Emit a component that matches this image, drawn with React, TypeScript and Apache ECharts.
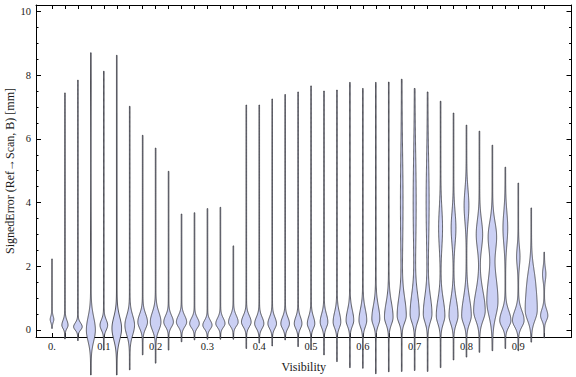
import React, { useEffect, useRef } from "react";
import * as echarts from "echarts";

// Violin positions (Visibility)
const VISIBILITY = [0, 0.025, 0.05, 0.075, 0.1, 0.125, 0.15, 0.175, 0.2, 0.225, 0.25, 0.275, 0.3, 0.325, 0.35, 0.375, 0.4, 0.425, 0.45, 0.475, 0.5, 0.525, 0.55, 0.575, 0.6, 0.625, 0.65, 0.675, 0.7, 0.725, 0.75, 0.775, 0.8, 0.825, 0.85, 0.875, 0.9, 0.925, 0.95];
// Range of SignedError per violin [mm]
const ERROR_MIN = [0.05, -0.28, -0.33, -1.41, -0.63, -1.41, -1.25, -0.78, -1.04, -0.63, -0.37, -0.31, -0.29, -0.29, -0.29, -0.58, -0.41, -0.5, -0.31, -0.52, -0.6, -0.78, -0.99, -1.18, -1.2, -1.37, -1.31, -1.3, -1.27, -1.3, -1.18, -0.94, -0.85, -0.7, -0.65, -0.58, -0.65, -0.38, -0.25];
const ERROR_MAX = [2.23, 7.44, 7.84, 8.7, 8.12, 8.62, 7.02, 6.11, 5.71, 4.98, 3.64, 3.68, 3.81, 3.85, 2.64, 7.06, 7.06, 7.25, 7.39, 7.47, 7.66, 7.5, 7.53, 7.77, 7.58, 7.77, 7.78, 7.87, 7.58, 7.47, 7.18, 6.81, 6.43, 6.24, 5.8, 5.11, 4.61, 3.83, 2.44];
// Main density peak: location, spread below / above, peak half-width (1e-3 visibility units)
const MODE = [0.33, 0.15, 0.1, 0.0, 0.15, 0.05, 0.15, 0.25, 0.25, 0.25, 0.25, 0.2, 0.15, 0.2, 0.25, 0.25, 0.2, 0.2, 0.2, 0.2, 0.2, 0.25, 0.25, 0.3, 0.3, 0.35, 0.4, 0.45, 0.5, 0.5, 0.45, 0.45, 0.45, 0.6, 0.9, 0.3, 0.3, 0.6, 0.45];
const SPREAD_LOW = [0.09, 0.1, 0.1, 0.35, 0.15, 0.35, 0.3, 0.2, 0.25, 0.15, 0.15, 0.13, 0.12, 0.12, 0.13, 0.15, 0.15, 0.15, 0.15, 0.15, 0.15, 0.17, 0.18, 0.18, 0.2, 0.2, 0.22, 0.22, 0.25, 0.25, 0.25, 0.25, 0.25, 0.3, 0.45, 0.2, 0.2, 0.3, 0.15];
const SPREAD_HIGH = [0.1, 0.15, 0.12, 0.4, 0.17, 0.35, 0.3, 0.25, 0.3, 0.2, 0.2, 0.17, 0.15, 0.17, 0.2, 0.2, 0.2, 0.2, 0.2, 0.2, 0.22, 0.25, 0.3, 0.32, 0.35, 0.4, 0.45, 0.55, 0.6, 0.55, 0.5, 0.5, 0.55, 0.6, 0.8, 0.3, 0.3, 0.6, 0.2];
const PEAK_WIDTH = [2.9, 5.4, 7.7, 8.1, 6.8, 8.7, 8.7, 8.7, 9.7, 8.7, 9.3, 8.7, 8.3, 8.3, 8.7, 8.7, 8.3, 7.7, 7.7, 6.8, 6.6, 6.8, 6.8, 6.8, 6.9, 7.1, 7.7, 8.1, 8.1, 7.7, 7.7, 8.1, 8.7, 10.6, 10.2, 10.2, 10.6, 10.6, 6.4];
// Secondary density peak (0 width = none)
const MODE2 = [0, 0, 0, 0, 0, 0, 0, 0, 0, 0, 0, 0, 0, 0, 0, 0, 0, 0, 0, 0, 0, 0, 0, 0, 0, 0, 0, 4.0, 4.0, 4.0, 3.2, 3.2, 3.9, 3.0, 2.95, 3.2, 2.3, 1.6, 1.75];
const SPREAD2 = [1, 1, 1, 1, 1, 1, 1, 1, 1, 1, 1, 1, 1, 1, 1, 1, 1, 1, 1, 1, 1, 1, 1, 1, 1, 1, 1, 1.5, 1.5, 1.3, 0.6, 0.5, 0.5, 0.45, 0.45, 0.5, 0.3, 0.45, 0.2];
const PEAK2_WIDTH = [0, 0, 0, 0, 0, 0, 0, 0, 0, 0, 0, 0, 0, 0, 0, 0, 0, 0, 0, 0, 0, 0, 0, 0, 0, 0, 0, 1.9, 2.3, 2.3, 3.2, 4.0, 4.0, 5.6, 7.2, 4.0, 2.7, 4.5, 2.7];

const X_LABELS = [0, 0.1, 0.2, 0.3, 0.4, 0.5, 0.6, 0.7, 0.8, 0.9];
const Y_MAJOR = [0, 2, 4, 6, 8, 10];
const Y_MINOR = [0.5, 1, 1.5, 2.5, 3, 3.5, 4.5, 5, 5.5, 6.5, 7, 7.5, 8.5, 9, 9.5];
const Y_TITLE = "SignedError (Ref\u2192Scan, B) [mm]";
const X_TITLE = "Visibility";

const X_MIN = -0.0309;
const X_MAX = 1.0027;
const Y_MIN = -0.22;
const Y_MAX = 10.2;

const WIDTH_UNIT = 0.001;
const BASE_WIDTH = 0.6;
const FILL = "#cbd0f4";
const STROKE = "rgba(50,50,55,0.8)";
const FONT = "'Liberation Serif', 'Times New Roman', serif";
const TEXT = "#1a1a1a";

export default function App() {
  const ref = useRef<HTMLDivElement>(null);
  useEffect(() => {
    if (!ref.current) return;
    const chart = echarts.init(ref.current, undefined, { renderer: "svg" });
    const data = VISIBILITY.map((v, i) => [
      v, ERROR_MIN[i], ERROR_MAX[i], MODE[i], SPREAD_LOW[i], SPREAD_HIGH[i], PEAK_WIDTH[i],
      MODE2[i], SPREAD2[i], PEAK2_WIDTH[i],
    ]);
    const tickLine = { color: "#000", width: 1 };
    const xBase = {
      type: "value" as const,
      min: X_MIN,
      max: X_MAX,
      splitLine: { show: false },
      axisLine: { show: true, onZero: false, lineStyle: tickLine },
    };
    const yBase = {
      type: "value" as const,
      min: Y_MIN,
      max: Y_MAX,
      splitLine: { show: false },
    };
    chart.setOption({
      animation: false,
      grid: { left: 36, right: 4.5, top: 5, bottom: 40, containLabel: false, outerBoundsMode: "none" },
      graphic: [
        {
          type: "text",
          x: 10,
          y: 171,
          rotation: Math.PI / 2,
          style: {
            text: Y_TITLE,
            fill: TEXT,
            font: `12px ${FONT}`,
            align: "center",
            verticalAlign: "middle",
          },
        },
      ],
      xAxis: [
        {
          ...xBase,
          position: "bottom",
          axisTick: { show: true, inside: true, length: 4, customValues: VISIBILITY, lineStyle: tickLine },
          axisLabel: {
            show: true,
            customValues: X_LABELS,
            formatter: (v: number) => (v === 0 ? "0." : v.toFixed(1)),
            color: TEXT,
            fontFamily: FONT,
            fontSize: 10.5,
            margin: 4,
          },
          name: X_TITLE,
          nameLocation: "middle",
          nameGap: 24,
          nameTextStyle: { color: TEXT, fontFamily: FONT, fontSize: 12 },
        },
        {
          ...xBase,
          position: "top",
          axisTick: { show: true, inside: true, length: 4, customValues: VISIBILITY, lineStyle: tickLine },
          axisLabel: { show: false },
        },
      ],
      yAxis: [
        {
          ...yBase,
          position: "left",
          axisLine: { show: true, onZero: false, lineStyle: tickLine },
          axisTick: { show: true, inside: true, length: 5, customValues: Y_MAJOR, lineStyle: tickLine },
          axisLabel: {
            show: true,
            customValues: Y_MAJOR,
            color: TEXT,
            fontFamily: FONT,
            fontSize: 10.5,
            margin: 5,
          },
        },
        {
          ...yBase,
          position: "left",
          axisLine: { show: false, onZero: false },
          axisTick: { show: true, inside: true, length: 2.5, customValues: Y_MINOR, lineStyle: tickLine },
          axisLabel: { show: false },
        },
        {
          ...yBase,
          position: "right",
          axisLine: { show: true, onZero: false, lineStyle: tickLine },
          axisTick: { show: true, inside: true, length: 5, customValues: Y_MAJOR, lineStyle: tickLine },
          axisLabel: { show: false },
        },
        {
          ...yBase,
          position: "right",
          axisLine: { show: false, onZero: false },
          axisTick: { show: true, inside: true, length: 2.5, customValues: Y_MINOR, lineStyle: tickLine },
          axisLabel: { show: false },
        },
      ],
      series: [
        {
          type: "custom",
          xAxisIndex: 0,
          yAxisIndex: 0,
          clip: false,
          silent: true,
          encode: { x: 0, y: [1, 2] },
          data,
          renderItem: (_params: any, api: any) => {
            const x = api.value(0);
            const lo = api.value(1);
            const hi = api.value(2);
            const c1 = api.value(3);
            const sl = api.value(4);
            const sh = api.value(5);
            const w1 = api.value(6);
            const c2 = api.value(7);
            const s2 = api.value(8);
            const w2 = api.value(9);
            const N = 320;
            const left: number[][] = [];
            const right: number[][] = [];
            for (let k = 0; k <= N; k++) {
              const y = lo + ((hi - lo) * k) / N;
              const s = y < c1 ? sl : sh;
              let w = w1 * Math.exp(-0.5 * ((y - c1) / s) ** 2);
              if (w2 > 0) w += w2 * Math.exp(-0.5 * ((y - c2) / s2) ** 2);
              const hw = (w + BASE_WIDTH) * WIDTH_UNIT;
              left.push(api.coord([x - hw, y]));
              right.push(api.coord([x + hw, y]));
            }
            const points = left.concat(right.reverse());
            return {
              type: "polygon",
              shape: { points },
              style: { fill: FILL, stroke: STROKE, lineWidth: 1 },
            };
          },
        },
      ],
    });
    return () => chart.dispose();
  }, []);
  return <div ref={ref} style={{ width: 576, height: 377, position: "absolute", left: 0, top: 0 }} />;
}
